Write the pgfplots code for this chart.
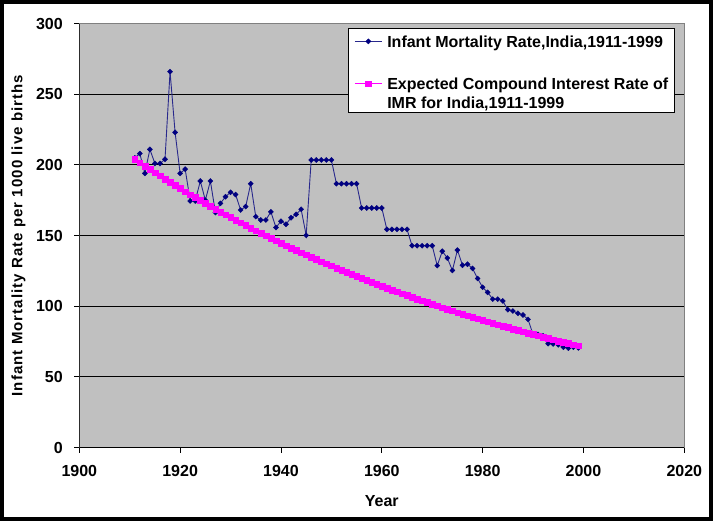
\documentclass[border=0pt]{standalone}
\usepackage{fontspec}
\setmainfont{Liberation Sans}
\newfontfamily\ylabfont[LetterSpace=7.1]{Liberation Sans}
\usepackage{pgfplots}
\pgfplotsset{compat=1.18}
\definecolor{plotgray}{RGB}{192,192,192}
\definecolor{bordergray}{RGB}{128,128,128}
\definecolor{imrblue}{RGB}{0,0,128}
\definecolor{imrline}{RGB}{40,40,140}
\definecolor{imrpink}{RGB}{255,0,255}
\newcommand{\chartfont}{\fontsize{16bp}{19bp}\selectfont\bfseries}
\newcommand{\legfont}{\fontsize{16bp}{19bp}\selectfont\bfseries}
\pgfplotsset{
  leg first/.style={legend image code/.code={\draw[mark repeat=2,mark phase=2,##1] plot coordinates {(0bp,-0.85bp) (13.35bp,-0.85bp) (26.7bp,-0.85bp)};}},
  leg second/.style={legend image code/.code={\draw[mark repeat=2,mark phase=2,##1] plot coordinates {(0bp,10.57bp) (13.35bp,10.57bp) (26.7bp,10.57bp)};}},
}
\begin{document}
\begin{tikzpicture}
\fill[white] (-79.3bp,-73.5bp) rectangle (633.7bp,447.5bp);
\draw[black,line width=4bp] (-77.3bp,-71.5bp) rectangle (631.7bp,445.5bp);
\begin{axis}[
  at={(0bp,0bp)}, anchor=south west,
  scale only axis, width=605bp, height=423.9bp,
  xmin=1900, xmax=2020, ymin=0, ymax=300,
  xtick={1900,1920,...,2020}, ytick={0,50,...,300},
  tick align=outside, xtick pos=bottom, ytick pos=left,
  major tick length=5bp, minor tick num=0,
  tick style={black, line width=0.8bp},
  ymajorgrids, grid style={black, line width=0.8bp},
  axis background/.style={fill=plotgray},
  axis line style={draw=bordergray, line width=0.8bp},
  /pgf/number format/1000 sep={},
  /pgf/number format/assume math mode=true,
  ticklabel style={font=\chartfont},
  xticklabel style={yshift=-9bp},
  yticklabel style={xshift=-8bp},
  label style={font=\chartfont},
  xlabel={Year}, ylabel={Infant Mortality Rate per 1000 live births},
  xlabel style={at={(axis description cs:0.5,-0.1257)}, anchor=center},
  ylabel style={at={(axis description cs:-0.1005,0.5)}, anchor=center,
    font={\ylabfont\fontsize{15bp}{18bp}\selectfont\bfseries}},
  legend style={at={(0.4441,0.9889)}, anchor=north west, draw=black, line width=0.8bp, fill=white,
    inner xsep=6bp, inner ysep=1.9bp, row sep=27.2bp, column sep=5bp,
    nodes={inner sep=0pt, text depth={}, text height={}, font=\legfont}},
  legend cell align=left,
  legend style={cells={align=left}},
]
\addplot[color=imrline, line width=0.9bp, mark=square*, mark size=1.8bp,
  mark options={rotate=45, fill=imrblue, draw=imrblue, line width=0.4bp}, leg first]
coordinates {
(1911,205) (1912,208) (1913,194) (1914,211) (1915,201) (1916,201) (1917,204) (1918,266) (1919,223) (1920,194)
(1921,197) (1922,174.5) (1923,174.5) (1924,188.6) (1925,175) (1926,188.6) (1927,166.3) (1928,172.8) (1929,177.5) (1930,180.6)
(1931,179) (1932,168.1) (1933,170.5) (1934,186.7) (1935,163.4) (1936,161) (1937,161) (1938,166.8) (1939,155.7) (1940,160.1)
(1941,158) (1942,162.6) (1943,165) (1944,168.6) (1945,150.2) (1946,203.5) (1947,203.5) (1948,203.5) (1949,203.5) (1950,203.5)
(1951,186.7) (1952,186.7) (1953,186.7) (1954,186.7) (1955,186.7) (1956,169.5) (1957,169.5) (1958,169.5) (1959,169.5) (1960,169.5)
(1961,154.4) (1962,154.4) (1963,154.4) (1964,154.4) (1965,154.4) (1966,142.8) (1967,142.8) (1968,142.8) (1969,142.8) (1970,142.8)
(1971,128.7) (1972,138.9) (1973,134.1) (1974,125.3) (1975,139.7) (1976,129) (1977,129.7) (1978,126.7) (1979,119.6) (1980,113.4)
(1981,109.8) (1982,105) (1983,105) (1984,103.7) (1985,97.5) (1986,96.6) (1987,95) (1988,93.8) (1989,90.7) (1990,80)
(1991,80) (1992,79) (1993,73.5) (1994,73.3) (1995,72.7) (1996,71) (1997,70.3) (1998,71) (1999,70.5)
};
\addlegendentry{\rule{0pt}{16.5bp}Infant Mortality Rate,India,1911-1999}
\addplot[color=imrpink, line width=1.2bp, mark=square*, mark size=2.8bp,
  mark options={fill=imrpink, draw=imrpink, line width=0.2bp}, leg second]
coordinates {
(1911,204.0) (1912,201.6) (1913,199.2) (1914,196.9) (1915,194.6) (1916,192.3) (1917,190.0) (1918,187.8) (1919,185.6) (1920,183.4)
(1921,181.2) (1922,179.1) (1923,177.0) (1924,174.9) (1925,172.9) (1926,170.8) (1927,168.8) (1928,166.8) (1929,164.9) (1930,162.9)
(1931,161.0) (1932,159.1) (1933,157.2) (1934,155.4) (1935,153.6) (1936,151.8) (1937,150.0) (1938,148.2) (1939,146.5) (1940,144.7)
(1941,143.0) (1942,141.3) (1943,139.7) (1944,138.0) (1945,136.4) (1946,134.8) (1947,133.2) (1948,131.7) (1949,130.1) (1950,128.6)
(1951,127.1) (1952,125.6) (1953,124.1) (1954,122.6) (1955,121.2) (1956,119.8) (1957,118.4) (1958,117.0) (1959,115.6) (1960,114.2)
(1961,112.9) (1962,111.6) (1963,110.2) (1964,108.9) (1965,107.7) (1966,106.4) (1967,105.1) (1968,103.9) (1969,102.7) (1970,101.5)
(1971,100.3) (1972,99.1) (1973,97.9) (1974,96.8) (1975,95.6) (1976,94.5) (1977,93.4) (1978,92.3) (1979,91.2) (1980,90.2)
(1981,89.1) (1982,88.0) (1983,87.0) (1984,86.0) (1985,85.0) (1986,84.0) (1987,83.0) (1988,82.0) (1989,81.0) (1990,80.1)
(1991,79.1) (1992,78.2) (1993,77.3) (1994,76.4) (1995,75.5) (1996,74.6) (1997,73.7) (1998,72.9) (1999,72.0)
};
\addlegendentry{Expected Compound Interest Rate of\\IMR for India,1911-1999}
\draw[black, line width=0.8bp] (rel axis cs:0,1) -- (rel axis cs:0,0) -- (rel axis cs:1,0);
\end{axis}
\end{tikzpicture}
\end{document}
